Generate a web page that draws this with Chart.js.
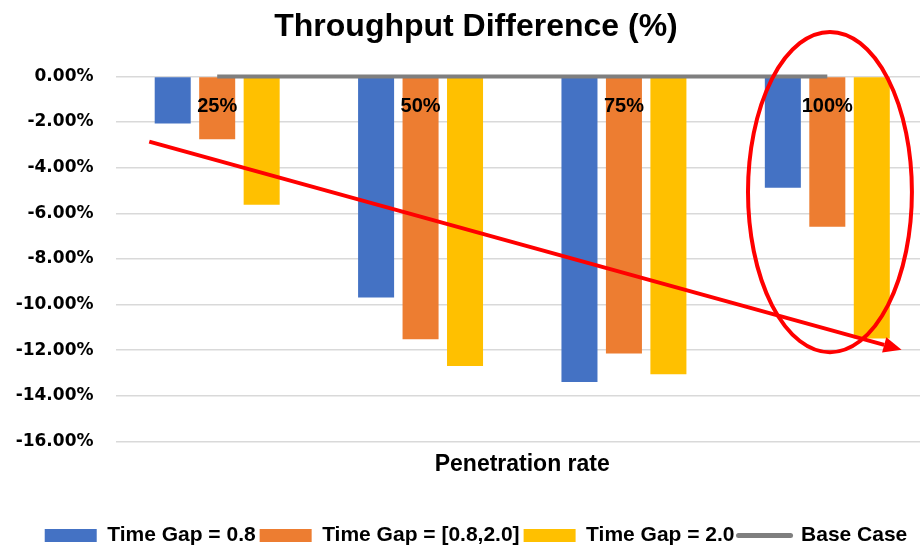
<!DOCTYPE html>
<html>
<head>
<meta charset="utf-8">
<script src="https://cdn.jsdelivr.net/npm/chart.js@4/dist/chart.umd.min.js"></script>
<style>
  html, body { margin: 0; padding: 0; background: #ffffff; overflow: hidden; }
  #wrap { width: 952px; height: 549px; }
</style>
</head>
<body>
<div id="wrap"><canvas id="chart" width="952" height="549"></canvas></div>
<script>
// Penetration rates on the category axis
const penetrationRates = ['25%', '50%', '75%', '100%'];

// Throughput difference against the base case, in percent
const timeGap08 = [-2.07, -9.69, -13.40, -4.88];
const timeGapRange = [-2.76, -11.52, -12.15, -6.59];
const timeGap20 = [-5.63, -12.69, -13.06, -11.49];
const baseCase = [0, 0, 0, 0];

const seriesNames = ['Time Gap = 0.8', 'Time Gap = [0.8,2.0]', 'Time Gap = 2.0', 'Base Case'];

// Red trend arrow and highlight ellipse, placed in axis units
const trendMarks = {
  id: 'trendMarks',
  afterDraw(chart) {
    const { ctx, scales: { x, y } } = chart;
    ctx.save();
    ctx.strokeStyle = '#ff0000';
    ctx.fillStyle = '#ff0000';
    ctx.lineWidth = 4;

    // arrow
    const x0 = x.getPixelForValue(-0.334), y0 = y.getPixelForValue(-2.86);
    const x1 = x.getPixelForValue(3.365), y1 = y.getPixelForValue(-11.98);
    const ang = Math.atan2(y1 - y0, x1 - x0);
    const headLen = 18, headHalf = 8;
    const bx = x1 - Math.cos(ang) * headLen, by = y1 - Math.sin(ang) * headLen;
    ctx.beginPath();
    ctx.moveTo(x0, y0);
    ctx.lineTo(bx, by);
    ctx.stroke();
    ctx.beginPath();
    ctx.moveTo(x1, y1);
    ctx.lineTo(bx + Math.sin(ang) * headHalf, by - Math.cos(ang) * headHalf);
    ctx.lineTo(bx - Math.sin(ang) * headHalf, by + Math.cos(ang) * headHalf);
    ctx.closePath();
    ctx.fill();

    // ellipse round the 100% group
    const cx = x.getPixelForValue(3.013), cy = y.getPixelForValue(-5.07);
    const rx = (x.getPixelForValue(1) - x.getPixelForValue(0)) * 0.403;
    const ry = Math.abs(y.getPixelForValue(0) - y.getPixelForValue(7.02));
    ctx.beginPath();
    ctx.ellipse(cx, cy, rx, ry, 0, 0, Math.PI * 2);
    ctx.stroke();
    ctx.restore();
  }
};

const barColors = ['#4472c4', '#ed7d31', '#ffc000'];
const barSeries = [timeGap08, timeGapRange, timeGap20];

const datasets = barSeries.map((values, i) => ({
  type: 'bar',
  label: seriesNames[i],
  data: values,
  backgroundColor: barColors[i],
  borderWidth: 0,
  categoryPercentage: 0.656,
  barPercentage: 0.81,
  pointStyle: 'rect',
  order: 1
}));
datasets.push({
  type: 'line',
  label: seriesNames[3],
  data: baseCase,
  borderColor: '#7f7f7f',
  backgroundColor: '#7f7f7f',
  borderWidth: 4,
  pointRadius: 0,
  pointHoverRadius: 0,
  pointStyle: 'line',
  fill: false,
  clip: false,
  order: 0
});

new Chart(document.getElementById('chart'), {
  data: { labels: penetrationRates, datasets },
  options: {
    responsive: false,
    animation: false,
    layout: { padding: { left: 0, right: 0, top: 0, bottom: -7 } },
    plugins: {
      title: {
        display: true,
        text: 'Throughput Difference (%)',
        color: '#000000',
        font: { family: 'Liberation Sans', size: 32, weight: 'bold' },
        padding: { top: 8, bottom: 30 }
      },
      legend: {
        position: 'bottom',
        labels: {
          color: '#000000',
          font: { family: 'Liberation Sans', size: 21, weight: 'bold' },
          usePointStyle: true,
          pointStyleWidth: 52,
          boxHeight: 13,
          padding: 4,
          generateLabels(chart) {
            const items = Chart.defaults.plugins.legend.labels.generateLabels(chart);
            items.sort((a, b) => a.datasetIndex - b.datasetIndex);
            items.forEach(item => {
              if (item.datasetIndex === 3) {
                item.pointStyle = 'line';
                item.lineWidth = 5;
                item.lineCap = 'round';
                item.strokeStyle = '#7f7f7f';
              } else {
                item.pointStyle = 'rect';
                item.lineWidth = 0;
              }
            });
            return items;
          }
        }
      },
      tooltip: { enabled: false }
    },
    scales: {
      x: {
        type: 'category',
        position: { y: 0 },
        offset: true,
        grid: { display: false, drawTicks: false },
        border: { display: false },
        ticks: {
          z: 1,
          color: '#000000',
          font: { family: 'Liberation Sans', size: 20, weight: 'bold' },
          padding: 18,
          maxRotation: 0
        }
      },
      x2: {
        type: 'category',
        position: 'bottom',
        labels: penetrationRates,
        offset: true,
        grid: { display: false, drawTicks: false },
        border: { display: false },
        ticks: { display: false },
        title: {
          display: true,
          text: 'Penetration rate',
          color: '#000000',
          font: { family: 'Liberation Sans', size: 23, weight: 'bold' },
          padding: { top: 9, bottom: 43 }
        }
      },
      y: {
        min: -16,
        max: 0,
        afterFit(scale) { scale.width = 115.5; },
        grid: { color: '#d9d9d9', lineWidth: 1.5, drawTicks: false },
        border: { display: false },
        ticks: {
          stepSize: 2,
          color: '#000000',
          padding: 22,
          font: { family: 'DejaVu Sans', size: 17, weight: 'bold' },
          callback: v => (Math.abs(v) < 1e-9 ? 0 : v).toFixed(2) + '%'
        }
      },
      // empty margin on the right of the plot
      yRight: {
        type: 'linear',
        position: 'right',
        grid: { display: false, drawTicks: false },
        border: { display: false },
        ticks: { display: false },
        afterFit(scale) { scale.width = 23; }
      }
    }
  },
  plugins: [trendMarks]
});
</script>
</body>
</html>
